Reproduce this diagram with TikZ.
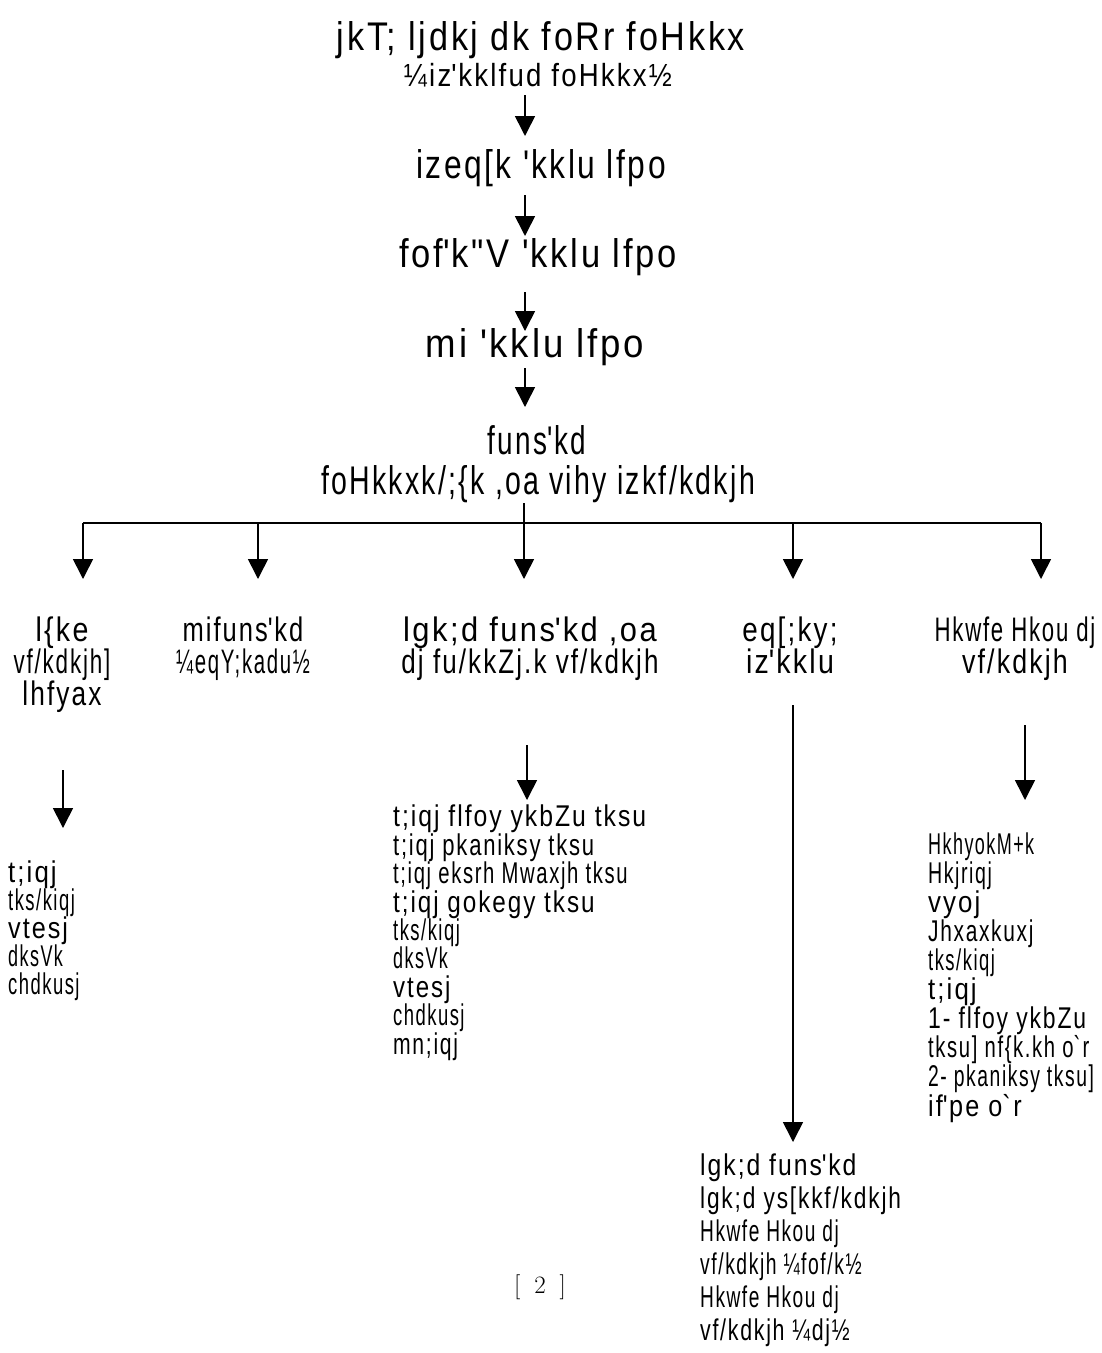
\documentclass[tikz,border=0pt]{standalone}
\usepackage{fontspec}
\usetikzlibrary{arrows.meta}
\newfontfamily\kd{Liberation Sans}[FakeStretch=0.75,LetterSpace=6]
\newcommand\q{\textquotesingle}
\newcommand\gr{\textasciigrave}
\newcommand\sx[2]{\scalebox{#1}[1]{#2}}
\tikzset{
  txt/.style={inner sep=0pt, anchor=base},
  big/.style={txt, font=\kd\fontsize{40}{40}\selectfont},
  mid/.style={txt, align=center, font=\kd\fontsize{34}{32}\selectfont},
  lst/.style={inner sep=0pt, anchor=base west, align=left, font=\kd\fontsize{30}{28}\selectfont},
  arr/.style={line width=1.6pt, -{Triangle[width=20pt,length=20pt]}},
  ln/.style={line width=1.6pt}
}
\begin{document}
\begin{tikzpicture}[x=1pt,y=-1pt]
\useasboundingbox (0,0) rectangle (1102,1353);
% top chain
\node[big] (t1) at (541,50) {\sx{1.14}{jkT; ljdkj dk foRr foHkkx}};
\node[txt, font=\kd\fontsize{32}{32}\selectfont] (t2) at (538,86) {\sx{1.15}{¼iz\q kklfud foHkkx½}};
\node[big] (h1) at (541,178) {\sx{1.06}{izeq[k \q kklu lfpo}};
\node[big] (h2) at (538,267) {\sx{1.15}{fof\q k"V \q kklu lfpo}};
\node[big] (h3) at (535,357) {\sx{1.22}{mi \q kklu lfpo}};
\node[big] (h4) at (537,454) {\sx{0.93}{funs\q kd}};
\node[big] (h5) at (538,494) {\sx{0.95}{foHkkxk/;\{k ,oa vihy izkf/kdkjh}};
\coordinate (a1s) at (525,95);  \coordinate (a1e) at (525,136);
\coordinate (a2s) at (525,195); \coordinate (a2e) at (525,236);
\coordinate (a3s) at (525,292); \coordinate (a3e) at (525,331);
\coordinate (a4s) at (525,368); \coordinate (a4e) at (525,407);
\draw[arr] (a1s) -- (a1e);
\draw[arr] (a2s) -- (a2e);
\draw[arr] (a3s) -- (a3e);
\draw[arr] (a4s) -- (a4e);
% branching
\coordinate (bs) at (524,503);
\coordinate (bj) at (524,523);
\coordinate (bl) at (83,523);
\coordinate (br) at (1041,523);
\draw[ln] (bs) -- (bj);
\draw[ln] (bl) -- (br);
\foreach \x/\n in {83/1,258/2,524/3,793/4,1041/5}{
  \coordinate (e\n) at (\x,579);
  \draw[arr] (\x,523) -- (e\n);
}
% second level (anchor = baseline of last line)
\node[mid] (n1) at (62,705) {\sx{1.12}{l\{ke}\\\sx{0.88}{vf/kdkjh]}\\\sx{1.03}{lhfyax}};
\node[mid] (n2) at (243,673) {\sx{1.0}{mifuns\q kd}\\\sx{0.8}{¼eqY;kadu½}};
\node[mid] (n3) at (530,673) {\sx{1.21}{lgk;d funs\q kd ,oa}\\\sx{1.02}{dj fu/kkZj.k vf/kdkjh}};
\node[mid] (n4) at (790,673) {\sx{1.09}{eq[;ky;}\\\sx{1.12}{iz\q kklu}};
\node[mid] (n5) at (1015,673) {\sx{0.87}{Hkwfe Hkou dj}\\\sx{1.05}{vf/kdkjh}};
% arrows to lists
\coordinate (c1s) at (63,770);   \coordinate (c1e) at (63,828);
\coordinate (c3s) at (527,745);  \coordinate (c3e) at (527,800);
\coordinate (c4s) at (793,705);  \coordinate (c4e) at (793,1142);
\coordinate (c5s) at (1025,725); \coordinate (c5e) at (1025,800);
\draw[arr] (c1s) -- (c1e);
\draw[arr] (c3s) -- (c3e);
\draw[arr] (c4s) -- (c4e);
\draw[arr] (c5s) -- (c5e);
% lists (anchor = baseline of last line)
\node[lst] (l1) at (8,994) {\sx{1.15}{t;iqj}\\\sx{0.82}{tks/kiqj}\\\sx{1.12}{vtesj}\\\sx{0.8}{dksVk}\\\sx{0.82}{chdkusj}};
\node[lst, font=\kd\fontsize{30}{28.4}\selectfont] (l3) at (393,1054) {\sx{1.1}{t;iqj flfoy ykbZu tksu}\\\sx{0.98}{t;iqj pkaniksy tksu}\\\sx{0.9}{t;iqj eksrh Mwaxjh tksu}\\\sx{1.08}{t;iqj gokegy tksu}\\\sx{0.82}{tks/kiqj}\\\sx{0.8}{dksVk}\\\sx{1.07}{vtesj}\\\sx{0.82}{chdkusj}\\\sx{0.94}{mn;iqj}};
\node[lst, font=\kd\fontsize{30}{27.6}\selectfont] (l5) at (928,1116) {\sx{0.8}{HkhyokM+k}\\\sx{0.87}{Hkjriqj}\\\sx{1.15}{vyoj}\\\sx{0.93}{Jhxaxkuxj}\\\sx{0.82}{tks/kiqj}\\\sx{1.15}{t;iqj}\\\sx{1.02}{1- flfoy ykbZu}\\\sx{0.9}{tksu] nf\{k.kh o\gr r}\\\sx{0.86}{2- pkaniksy tksu]}\\\sx{1.12}{if\q pe o\gr r}};
\node[lst, font=\kd\fontsize{30}{33}\selectfont] (l4) at (700,1340) {\sx{1.1}{lgk;d funs\q kd}\\\sx{1.01}{lgk;d ys[kkf/kdkjh}\\\sx{0.85}{Hkwfe Hkou dj}\\\sx{0.86}{vf/kdkjh ¼fof/k½}\\\sx{0.85}{Hkwfe Hkou dj}\\\sx{0.95}{vf/kdkjh ¼dj½}};
% page number
\node[txt, font=\fontsize{25}{25}\selectfont] (pg) at (540,1293) {[\hspace{14pt}2\hspace{14pt}]};
\end{tikzpicture}
\end{document}
